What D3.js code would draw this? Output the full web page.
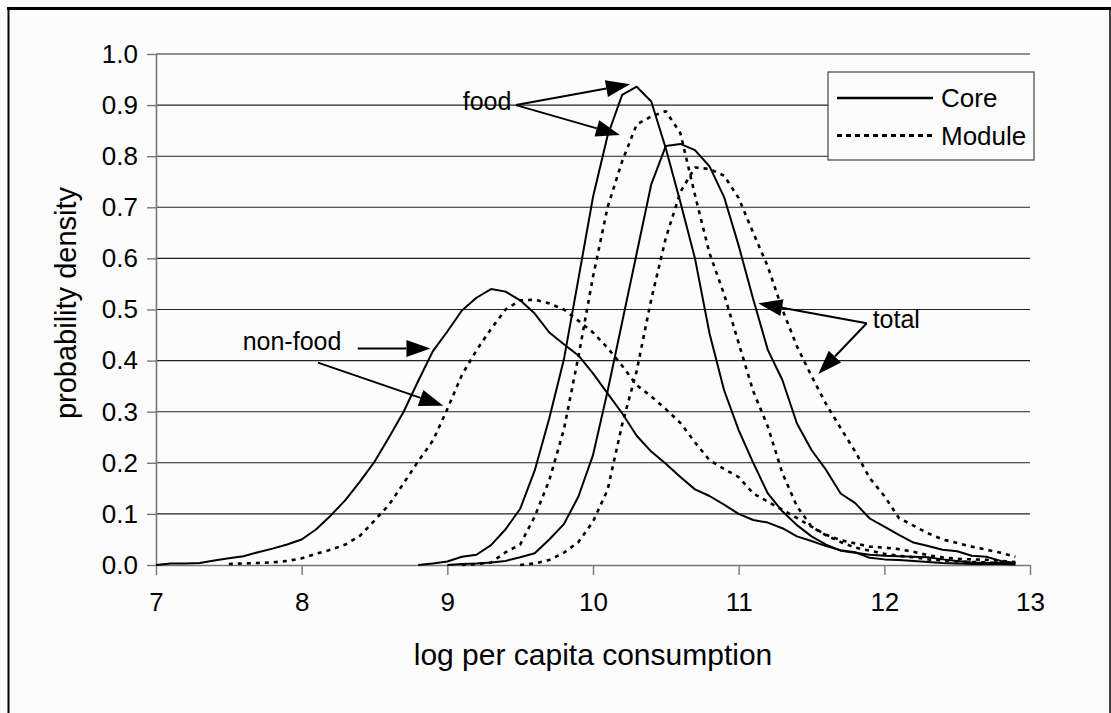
<!DOCTYPE html>
<html>
<head>
<meta charset="utf-8">
<script src="https://cdn.jsdelivr.net/npm/d3@7"></script>
<style>
  body { margin: 0; background: #fcfcfc; }
  svg text { font-family: "Liberation Sans", Arial, sans-serif; fill: #000; }
</style>
</head>
<body>
<svg id="vis" width="1111" height="713"></svg>
<script>
// x positions of every curve are on a 0.1 grid, starting at the given x
const step = 0.1;

const nonfoodCoreStart = 7.0;
const nonfoodCore = [0.000, 0.003, 0.003, 0.004, 0.009, 0.013, 0.017, 0.025, 0.032, 0.040,
  0.050, 0.070, 0.097, 0.127, 0.163, 0.202, 0.250, 0.300, 0.360, 0.418,
  0.457, 0.498, 0.523, 0.540, 0.535, 0.518, 0.492, 0.455, 0.432, 0.410,
  0.375, 0.336, 0.297, 0.253, 0.222, 0.198, 0.172, 0.148, 0.135, 0.118,
  0.100, 0.088, 0.083, 0.072, 0.056, 0.047, 0.037, 0.029, 0.025, 0.014,
  0.011, 0.010, 0.008, 0.006, 0.004, 0.003, 0.002, 0.002, 0.002, 0.001];

const nonfoodModuleStart = 7.5;
const nonfoodModule = [0.002, 0.003, 0.004, 0.005, 0.008,
  0.013, 0.022, 0.030, 0.040, 0.057, 0.087, 0.118, 0.160, 0.203, 0.243,
  0.305, 0.372, 0.420, 0.462, 0.500, 0.518, 0.519, 0.512, 0.500, 0.478,
  0.455, 0.425, 0.390, 0.352, 0.330, 0.305, 0.278, 0.240, 0.205, 0.188,
  0.172, 0.140, 0.124, 0.108, 0.092, 0.075, 0.059, 0.049, 0.042, 0.036,
  0.034, 0.031, 0.026, 0.019, 0.015, 0.012, 0.011, 0.010, 0.008, 0.006];

const foodCoreStart = 8.8;
const foodCore = [0.000, 0.003,
  0.007, 0.016, 0.020, 0.039, 0.070, 0.110, 0.185, 0.287, 0.402, 0.560,
  0.720, 0.840, 0.920, 0.936, 0.907, 0.815, 0.710, 0.600, 0.453, 0.342,
  0.264, 0.200, 0.140, 0.105, 0.078, 0.056, 0.040, 0.028, 0.024, 0.020,
  0.018, 0.017, 0.016, 0.015, 0.011, 0.008, 0.005, 0.004, 0.004, 0.003];

const foodModuleStart = 9.1;
const foodModule = [0.000, 0.002, 0.005, 0.025, 0.040, 0.095, 0.166, 0.265, 0.408,
  0.564, 0.700, 0.790, 0.862, 0.878, 0.888, 0.845, 0.724, 0.610, 0.530,
  0.434, 0.340, 0.271, 0.180, 0.115, 0.075, 0.058, 0.045, 0.034, 0.028,
  0.022, 0.018, 0.015, 0.011, 0.009, 0.007, 0.006, 0.005, 0.004, 0.003];

const totalCoreStart = 9.0;
const totalCore = [0.000, 0.002, 0.003, 0.005, 0.008, 0.015, 0.023, 0.050, 0.080, 0.134,
  0.215, 0.340, 0.475, 0.610, 0.745, 0.820, 0.824, 0.812, 0.780, 0.720,
  0.625, 0.520, 0.421, 0.362, 0.277, 0.225, 0.186, 0.140, 0.121, 0.091,
  0.075, 0.059, 0.044, 0.037, 0.030, 0.027, 0.018, 0.016, 0.008, 0.004];

const totalModuleStart = 9.5;
const totalModule = [0.000, 0.003, 0.010, 0.024, 0.045,
  0.085, 0.147, 0.275, 0.380, 0.520, 0.640, 0.730, 0.778, 0.775, 0.762,
  0.718, 0.650, 0.584, 0.500, 0.428, 0.370, 0.315, 0.268, 0.222, 0.170,
  0.135, 0.092, 0.077, 0.062, 0.050, 0.043, 0.036, 0.030, 0.024, 0.016];

const xTicks = [7, 8, 9, 10, 11, 12, 13];
const yTicks = [0, 0.1, 0.2, 0.3, 0.4, 0.5, 0.6, 0.7, 0.8, 0.9, 1.0];
const legendLabels = ["Core", "Module"];

// annotations: label text, label anchor (data units), arrows [from, to]
const annotations = [
  {text: "non-food", anchor: "start", at: [7.595, 0.421],
   arrows: [[[8.385, 0.4237], [8.884, 0.4237]], [[8.112, 0.396], [8.972, 0.3117]]]},
  {text: "food", anchor: "end", at: [9.44, 0.89],
   arrows: [[[9.471, 0.900], [10.254, 0.9407]], [[9.471, 0.900], [10.185, 0.8415]]]},
  {text: "total", anchor: "start", at: [11.92, 0.463],
   arrows: [[[11.879, 0.473], [11.135, 0.512]], [[11.879, 0.473], [11.547, 0.374]]]}
];

const svg = d3.select("svg#vis");

// outer frame
svg.append("line").attr("x1", 7).attr("x2", 1111).attr("y1", 8.5).attr("y2", 8.5)
  .attr("stroke", "#000").attr("stroke-width", 3);
svg.append("line").attr("x1", 8.5).attr("x2", 8.5).attr("y1", 7).attr("y2", 713)
  .attr("stroke", "#000").attr("stroke-width", 2);
svg.append("line").attr("x1", 1110).attr("x2", 1110).attr("y1", 7).attr("y2", 713)
  .attr("stroke", "#000").attr("stroke-width", 1.5);

const x = d3.scaleLinear().domain([7, 13]).range([156, 1030]);
const y = d3.scaleLinear().domain([0, 1]).range([565, 54]);

// grid lines
svg.append("g").attr("id", "grid")
  .selectAll("line")
  .data(yTicks.filter(d => d > 0))
  .enter()
  .append("line")
  .attr("x1", x(7)).attr("x2", x(13))
  .attr("y1", d => y(d)).attr("y2", d => y(d))
  .attr("stroke", "#222").attr("stroke-width", 1.1);

// axes
const yAxis = svg.append("g")
  .attr("transform", "translate(" + x(7) + ",0)")
  .call(d3.axisLeft(y).tickValues(yTicks).tickFormat(d3.format(".1f"))
    .tickSize(9).tickSizeOuter(0).tickPadding(9));
const xAxis = svg.append("g")
  .attr("transform", "translate(0," + y(0) + ")")
  .call(d3.axisBottom(x).tickValues(xTicks).tickFormat(d3.format("d"))
    .tickSize(10).tickSizeOuter(0).tickPadding(18));

[yAxis, xAxis].forEach(function(a) {
  a.select(".domain").attr("stroke", "#777").attr("stroke-width", 1.6);
  a.selectAll(".tick line").attr("stroke", "#777").attr("stroke-width", 1.4);
  a.selectAll("text").attr("font-size", 26)
    .style("font-family", "'Liberation Sans', Arial, sans-serif").attr("fill", "#000");
});

// axis titles
svg.append("text")
  .attr("x", (x(7) + x(13)) / 2).attr("y", 665)
  .attr("text-anchor", "middle").attr("font-size", 30)
  .text("log per capita consumption");
svg.append("text")
  .attr("transform", "translate(76,303) rotate(-90)")
  .attr("text-anchor", "middle").attr("font-size", 29)
  .text("probability density");

// curves
const line = d3.line().x(d => x(d[0])).y(d => y(d[1]));
function pts(start, vals) {
  return vals.map((v, i) => [start + i * step, v]);
}
const series = [
  {name: "nonfood-core", start: nonfoodCoreStart, vals: nonfoodCore, type: "Core"},
  {name: "nonfood-module", start: nonfoodModuleStart, vals: nonfoodModule, type: "Module"},
  {name: "food-core", start: foodCoreStart, vals: foodCore, type: "Core"},
  {name: "food-module", start: foodModuleStart, vals: foodModule, type: "Module"},
  {name: "total-core", start: totalCoreStart, vals: totalCore, type: "Core"},
  {name: "total-module", start: totalModuleStart, vals: totalModule, type: "Module"}
];

svg.append("g").attr("id", "curves")
  .selectAll("path")
  .data(series)
  .enter()
  .append("path")
  .attr("d", d => line(pts(d.start, d.vals)))
  .attr("fill", "none")
  .attr("stroke", "#000")
  .attr("stroke-width", d => d.type == "Core" ? 2 : 2.6)
  .attr("stroke-dasharray", d => d.type == "Core" ? null : "4,5")
  .attr("stroke-linejoin", "round");

// annotations
function arrow(g, p0, p1) {
  const x0 = x(p0[0]), y0 = y(p0[1]), x1 = x(p1[0]), y1 = y(p1[1]);
  const ang = Math.atan2(y1 - y0, x1 - x0);
  const len = 24, hw = 8.5;
  const bx = x1 - len * Math.cos(ang), by = y1 - len * Math.sin(ang);
  g.append("line").attr("x1", x0).attr("y1", y0).attr("x2", bx).attr("y2", by)
    .attr("stroke", "#000").attr("stroke-width", 2);
  const px = -Math.sin(ang) * hw, py = Math.cos(ang) * hw;
  g.append("path")
    .attr("d", "M" + x1 + "," + y1 + "L" + (bx + px) + "," + (by + py) + "L" + (bx - px) + "," + (by - py) + "Z")
    .attr("fill", "#000");
}
const ann = svg.append("g").attr("id", "annotations");
annotations.forEach(function(a) {
  ann.append("text")
    .attr("x", x(a.at[0])).attr("y", y(a.at[1]))
    .attr("text-anchor", a.anchor).attr("font-size", 25)
    .text(a.text);
  a.arrows.forEach(ar => arrow(ann, ar[0], ar[1]));
});

// legend
const legend = svg.append("g").attr("id", "legend");
legend.append("rect")
  .attr("x", 828).attr("y", 72).attr("width", 206).attr("height", 88)
  .attr("fill", "#fcfcfc").attr("stroke", "#444").attr("stroke-width", 1.2);
legendLabels.forEach(function(lab, i) {
  const ly = 98 + i * 37.5;
  legend.append("line")
    .attr("x1", 837).attr("x2", 933).attr("y1", ly).attr("y2", ly)
    .attr("stroke", "#000").attr("stroke-width", i == 0 ? 2.5 : 3)
    .attr("stroke-dasharray", i == 0 ? null : "5,4");
  legend.append("text")
    .attr("x", 941).attr("y", ly + 9)
    .attr("font-size", 26)
    .text(lab);
});
</script>
</body>
</html>
